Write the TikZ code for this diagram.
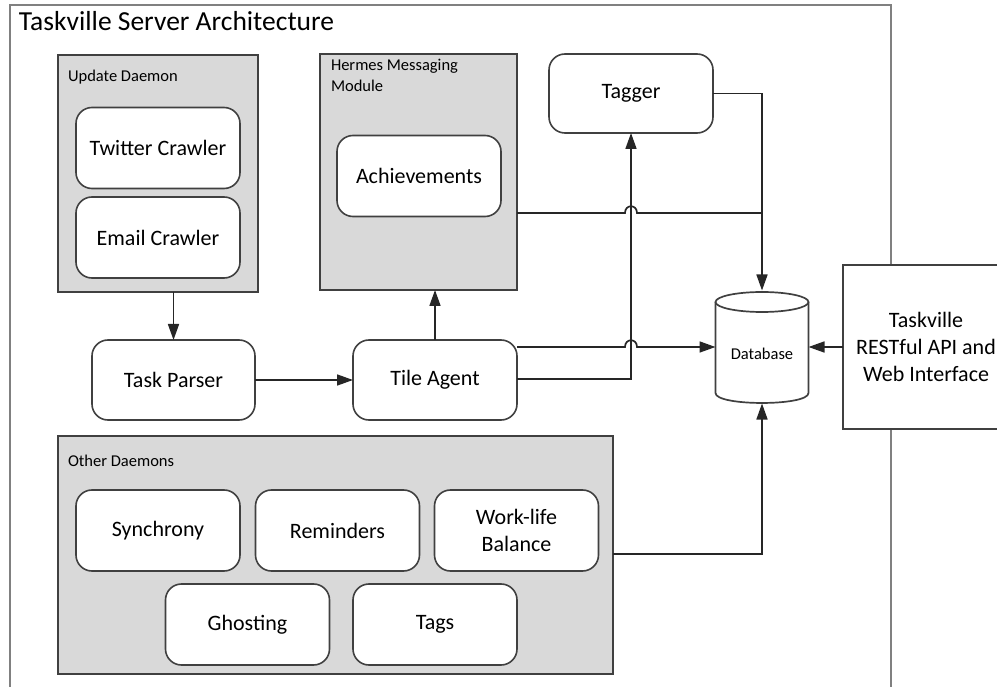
\documentclass[tikz,border=0pt]{standalone}
\usepackage{fontspec}
\setmainfont{Carlito}
\usetikzlibrary{arrows.meta}
\definecolor{groupgray}{HTML}{D9D9D9}
\definecolor{edgegray}{HTML}{404040}
\begin{document}
\begin{tikzpicture}[x=1pt,y=-1pt,
  every node/.style={inner sep=0pt, outer sep=0pt, align=center,
    font=\fontsize{22}{27}\selectfont},
  small/.style={font=\fontsize{16.5}{21}\selectfont},
  frame/.style={draw=black!50, line width=2pt},
  group/.style={draw=edgegray, fill=groupgray, line width=1.6pt},
  task/.style={draw=edgegray, fill=white, rounded corners=16pt, line width=1.6pt,
    minimum width=164, minimum height=81},
  ln/.style={draw=black!85, line width=1.7pt},
  arr/.style={ln, -{Triangle[length=16pt,width=11pt]}}]
\useasboundingbox (0,0) rectangle (997,687);
\clip (0,0) rectangle (997,687);

% outer frame and title
\draw[frame] (10,5) rectangle (891,700);
\node[anchor=base west, font=\fontsize{27.5}{32}\selectfont] (title) at (19,31) {Taskville Server Architecture};

% group boxes
\node[group, minimum width=200, minimum height=237] (upd) at (158,173.5) {};
\node[small, anchor=base west] (updlbl) at (68,82) {Update Daemon};
\node[group, minimum width=197, minimum height=236] (hermes) at (418.5,172) {};
\node[small, anchor=north west, align=left] (hermeslbl) at (331,59) {Hermes Messaging\\Module};
\node[group, minimum width=555, minimum height=238] (other) at (335.5,555) {};
\node[small, anchor=base west] (otherlbl) at (68,466) {Other Daemons};

% components
\node[task] (twitter) at (158,148) {Twitter Crawler};
\node[task] (email) at (158,237.5) {Email Crawler};
\node[task] (achv) at (419,176) {Achievements};
\node[task, minimum height=79] (tagger) at (631,93.5) {Tagger};
\node[task, minimum width=163, minimum height=80] (tp) at (173.5,380) {Task Parser};
\node[task, minimum height=80] (tile) at (435,380) {Tile Agent};
\node[task] (sync) at (158,530.5) {Synchrony};
\node[task] (rem) at (337.5,530.5) {Reminders};
\node[task] (wlb) at (516.5,530.5) {Work-life\\Balance};
\node[task] (ghost) at (247.5,624.5) {Ghosting};
\node[task] (tags) at (435,624.5) {Tags};

% database cylinder
\node[minimum width=93, minimum height=113] (db) at (762,347) {};
\draw[ln, draw=edgegray, fill=white] (715.5,302) -- (715.5,393)
  .. controls (715.5,406.3) and (808.5,406.3) .. (808.5,393) -- (808.5,302);
\draw[ln, draw=edgegray, fill=white] (762,302) ellipse [x radius=46.5, y radius=10];
\node[small] (dbtext) at (762,354) {Database};

% external interface
\node[draw=edgegray, fill=white, line width=1.6pt, minimum width=166, minimum height=164] (rest) at (926,347) {Taskville\\RESTful API and\\Web Interface};

% connectors
\coordinate (hopA) at (631,213);
\coordinate (hopB) at (631,347);
\coordinate (tilelow) at (0,379);
\coordinate (otherout) at (0,554);

\draw[arr] (upd.south -| tp.north) -- (tp.north);
\draw[arr] (tp) -- (tile);
\draw[arr] (tile.north) -- (tile.north |- hermes.south);
\draw[ln] (hermes.east |- hopA) -- ([xshift=-6pt]hopA)
  .. controls ([xshift=-6pt,yshift=9pt]hopA) and ([xshift=6pt,yshift=9pt]hopA) .. ([xshift=6pt]hopA)
  -- (db.north |- hopA);
\draw[arr] (tagger.east) -| (db.north);
\draw[arr] (tile.east |- hopB) -- ([xshift=-6pt]hopB)
  .. controls ([xshift=-6pt,yshift=9pt]hopB) and ([xshift=6pt,yshift=9pt]hopB) .. ([xshift=6pt]hopB)
  -- (db.west |- hopB);
\draw[arr] (tile.east |- tilelow) -| (tagger.south);
\draw[arr] (rest.west) -- (db.east);
\draw[arr] (other.east |- otherout) -| (db.south);
\end{tikzpicture}
\end{document}
